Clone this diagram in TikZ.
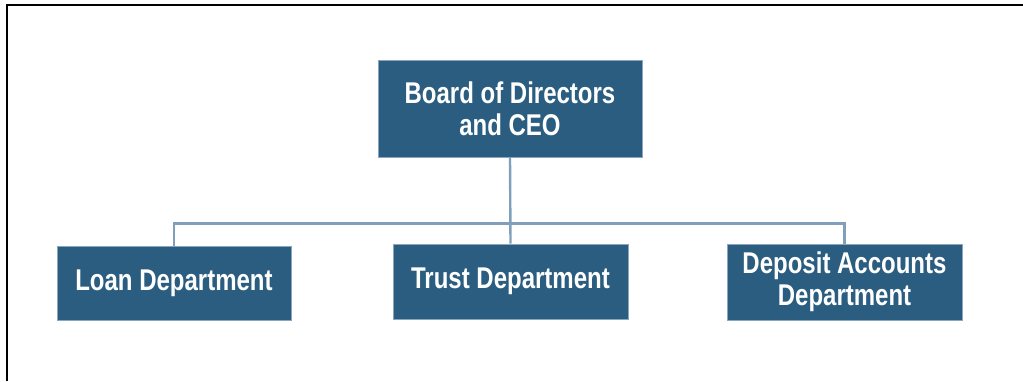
\documentclass[tikz,border=0pt]{standalone}
\usepackage{fontspec}
\setmainfont{Liberation Sans}[FakeStretch=0.8]
\definecolor{boxfill}{HTML}{2A5D7F}
\definecolor{boxedge}{HTML}{8AA6BE}
\definecolor{conn}{HTML}{7F9FBA}
\begin{document}
\begin{tikzpicture}[x=1pt,y=-1pt,
  orgbox/.style={draw=boxedge,line width=0.8pt,fill=boxfill,text=white,
    font=\fontsize{30}{32}\selectfont\bfseries,align=center,inner sep=0pt},
  link/.style={draw=conn,line width=2.4pt}]
\useasboundingbox (0,0) rectangle (1023,381);
\draw[line width=2.2pt,black] (7,381) -- (7,5) -- (1023,5);
\node[orgbox,minimum width=264pt,minimum height=97pt] (top) at (510,108.5) {Board of Directors\\and CEO};
\node[orgbox,minimum width=234pt,minimum height=74pt] (loan) at (174,283) {Loan Department};
\node[orgbox,minimum width=235pt,minimum height=75pt] (trust) at (510.5,281.5) {Trust Department};
\node[orgbox,minimum width=235pt,minimum height=76pt] (dep) at (844.5,282) {Deposit Accounts\\Department};
\coordinate (bus) at (510.5,223.5);
\draw[link] (top.south) -- (trust.north);
\draw[link] (loan.north) |- (bus) -| (dep.north);
\end{tikzpicture}
\end{document}
